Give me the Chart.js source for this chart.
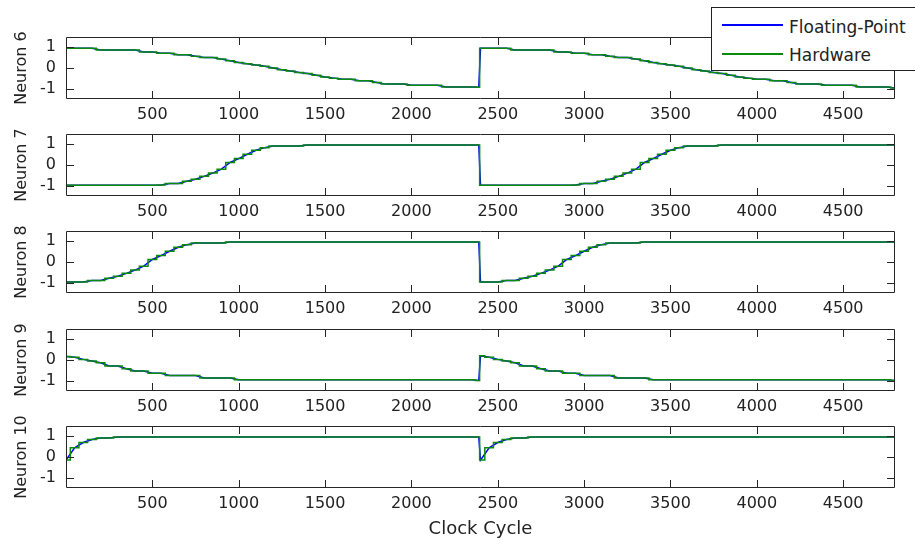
<!DOCTYPE html>
<html>
<head>
  <title>Neuron outputs</title>
  <script src="https://cdn.jsdelivr.net/npm/chart.js"></script>
<style>
body {
  margin: 0;
  background: #ffffff;
  width: 915px;
  height: 544px;
  overflow: hidden;
  position: relative;
  font-family: 'DejaVu Sans', sans-serif;
}
canvas.panel {
  position: absolute;
  left: 0;
}
#legend {
  position: absolute;
  left: 711px;
  top: 7px;
  width: 230px;
  height: 62px;
  border: 1px solid #222;
  background: #fff;
  z-index: 5;
}
#legend .swatch {
  position: absolute;
  left: 10px;
  width: 61px;
  height: 1.5px;
}
#legend .label {
  position: absolute;
  left: 77px;
  font-size: 17px;
  line-height: 20px;
  color: #222;
  white-space: nowrap;
}
</style>
</head>
<body>

  <div id="legend">
    <div class="swatch" style="top:16px;background:#0000ff"></div>
    <div class="label" style="top:9px">Floating-Point</div>
    <div class="swatch" style="top:45px;background:#0a8c0a"></div>
    <div class="label" style="top:37px">Hardware</div>
  </div>

  <script>
    // clock cycles (shared x values)
    const cycles = [
      0, 50, 100, 150, 200, 250, 300, 350, 400, 450, 500, 550, 600, 650, 700, 750, 800, 850, 900, 950,
      1000, 1050, 1100, 1150, 1200, 1250, 1300, 1350, 1400, 1450, 1500, 1550, 1600, 1650, 1700, 1750, 1800, 1850, 1900, 1950,
      2000, 2050, 2100, 2150, 2200, 2250, 2300, 2350, 2390,
      2400, 2450, 2500, 2550, 2600, 2650, 2700, 2750, 2800, 2850, 2900, 2950,
      3000, 3050, 3100, 3150, 3200, 3250, 3300, 3350, 3400, 3450, 3500, 3550, 3600, 3650, 3700, 3750, 3800, 3850, 3900, 3950,
      4000, 4050, 4100, 4150, 4200, 4250, 4300, 4350, 4400, 4450, 4500, 4550, 4600, 4650, 4700, 4750, 4800
    ];

    const neuron6 = [
      0.95, 0.95, 0.95, 0.95, 0.87, 0.87, 0.87, 0.87, 0.87, 0.78,
      0.78, 0.71, 0.71, 0.64, 0.64, 0.57, 0.51, 0.51, 0.43, 0.35,
      0.27, 0.21, 0.14, 0.08, 0.00, -0.08, -0.14, -0.22, -0.27, -0.35,
      -0.43, -0.49, -0.55, -0.55, -0.62, -0.62, -0.70, -0.78, -0.78, -0.78,
      -0.84, -0.84, -0.84, -0.84, -0.92, -0.92, -0.92, -0.92, -0.93,
      0.95, 0.95, 0.95, 0.95, 0.87, 0.87, 0.87, 0.87, 0.87, 0.78,
      0.78, 0.71, 0.71, 0.64, 0.64, 0.57, 0.51, 0.51, 0.43, 0.35,
      0.27, 0.21, 0.14, 0.08, 0.00, -0.08, -0.14, -0.22, -0.27, -0.35,
      -0.43, -0.49, -0.55, -0.55, -0.62, -0.62, -0.70, -0.78, -0.78, -0.78,
      -0.84, -0.84, -0.84, -0.84, -0.92, -0.92, -0.92, -0.92, -0.97
    ];

    const neuron7 = [
      -0.98, -0.98, -0.98, -0.98, -0.98, -0.98, -0.98, -0.98, -0.98, -0.98,
      -0.98, -0.97, -0.90, -0.90, -0.79, -0.69, -0.55, -0.39, -0.20, 0.12,
      0.31, 0.52, 0.71, 0.84, 0.92, 0.92, 0.92, 0.92, 0.97, 0.97,
      0.97, 0.97, 0.97, 0.97, 0.97, 0.97, 0.97, 0.97, 0.97, 0.97,
      0.97, 0.97, 0.97, 0.97, 0.97, 0.97, 0.97, 0.97, 0.97,
      -0.98, -0.98, -0.98, -0.98, -0.98, -0.98, -0.98, -0.98, -0.98, -0.98,
      -0.98, -0.97, -0.90, -0.90, -0.79, -0.69, -0.55, -0.39, -0.20, 0.12,
      0.31, 0.52, 0.71, 0.84, 0.92, 0.92, 0.92, 0.92, 0.97, 0.97,
      0.97, 0.97, 0.97, 0.97, 0.97, 0.97, 0.97, 0.97, 0.97, 0.97,
      0.97, 0.97, 0.97, 0.97, 0.97, 0.97, 0.97, 0.97, 0.97
    ];

    const neuron8 = [
      -0.97, -0.97, -0.97, -0.90, -0.90, -0.79, -0.69, -0.55, -0.39, -0.20,
      0.12, 0.31, 0.52, 0.71, 0.84, 0.92, 0.92, 0.92, 0.92, 0.97,
      0.97, 0.97, 0.97, 0.97, 0.97, 0.97, 0.97, 0.97, 0.97, 0.97,
      0.97, 0.97, 0.97, 0.97, 0.97, 0.97, 0.97, 0.97, 0.97, 0.97,
      0.97, 0.97, 0.97, 0.97, 0.97, 0.97, 0.97, 0.97, 0.97,
      -0.97, -0.97, -0.97, -0.90, -0.90, -0.79, -0.69, -0.55, -0.39, -0.20,
      0.12, 0.31, 0.52, 0.71, 0.84, 0.92, 0.92, 0.92, 0.92, 0.97,
      0.97, 0.97, 0.97, 0.97, 0.97, 0.97, 0.97, 0.97, 0.97, 0.97,
      0.97, 0.97, 0.97, 0.97, 0.97, 0.97, 0.97, 0.97, 0.97, 0.97,
      0.97, 0.97, 0.97, 0.97, 0.97, 0.97, 0.97, 0.97, 0.97
    ];

    const neuron9 = [
      0.17, 0.13, 0.03, -0.05, -0.13, -0.29, -0.29, -0.42, -0.53, -0.53,
      -0.64, -0.64, -0.75, -0.75, -0.75, -0.75, -0.87, -0.87, -0.87, -0.87,
      -0.96, -0.96, -0.96, -0.96, -0.96, -0.96, -0.96, -0.96, -0.96, -0.96,
      -0.96, -0.96, -0.96, -0.96, -0.96, -0.96, -0.96, -0.96, -0.96, -0.96,
      -0.96, -0.96, -0.96, -0.96, -0.96, -0.96, -0.96, -0.96, -0.99,
      0.20, 0.13, 0.03, -0.05, -0.13, -0.29, -0.29, -0.42, -0.53, -0.53,
      -0.64, -0.64, -0.75, -0.75, -0.75, -0.75, -0.87, -0.87, -0.87, -0.87,
      -0.96, -0.96, -0.96, -0.96, -0.96, -0.96, -0.96, -0.96, -0.96, -0.96,
      -0.96, -0.96, -0.96, -0.96, -0.96, -0.96, -0.96, -0.96, -0.96, -0.96,
      -0.96, -0.96, -0.96, -0.96, -0.96, -0.96, -0.96, -0.96, -0.99
    ];

    const neuron10 = [
      -0.15, 0.45, 0.70, 0.85, 0.92, 0.92, 0.97, 0.97, 0.97, 0.97,
      0.97, 0.97, 0.97, 0.97, 0.97, 0.97, 0.97, 0.97, 0.97, 0.97,
      0.97, 0.97, 0.97, 0.97, 0.97, 0.97, 0.97, 0.97, 0.97, 0.97,
      0.97, 0.97, 0.97, 0.97, 0.97, 0.97, 0.97, 0.97, 0.97, 0.97,
      0.97, 0.97, 0.97, 0.97, 0.97, 0.97, 0.97, 0.97, 0.97,
      -0.15, 0.45, 0.70, 0.85, 0.92, 0.92, 0.97, 0.97, 0.97, 0.97,
      0.97, 0.97, 0.97, 0.97, 0.97, 0.97, 0.97, 0.97, 0.97, 0.97,
      0.97, 0.97, 0.97, 0.97, 0.97, 0.97, 0.97, 0.97, 0.97, 0.97,
      0.97, 0.97, 0.97, 0.97, 0.97, 0.97, 0.97, 0.97, 0.97, 0.97,
      0.97, 0.97, 0.97, 0.97, 0.97, 0.97, 0.97, 0.97, 0.97
    ];

    const neuronNames = ['Neuron 6', 'Neuron 7', 'Neuron 8', 'Neuron 9', 'Neuron 10'];
    const neuronValues = [neuron6, neuron7, neuron8, neuron9, neuron10];
    const xTicks = [500, 1000, 1500, 2000, 2500, 3000, 3500, 4000, 4500];
    const yTicks = [-1, 0, 1];

    const panelTops = [27, 124, 221, 319, 416];   // canvas top for each subplot
    const textColor = '#222';

    Chart.defaults.font.family = "'DejaVu Sans', sans-serif";
    Chart.defaults.font.size = 16;
    Chart.defaults.color = textColor;
    Chart.defaults.animation = false;

    // MATLAB style box with inward ticks
    const boxPlugin = {
      id: 'box',
      afterDatasetsDraw(chart) {
        const { ctx, chartArea: a, scales } = chart;
        ctx.save();
        ctx.strokeStyle = '#262626';
        ctx.lineWidth = 1;
        ctx.beginPath();
        ctx.rect(a.left + 0.5, a.top + 0.5, a.right - a.left - 1, a.bottom - a.top - 1);
        xTicks.forEach(v => {
          const px = Math.round(scales.x.getPixelForValue(v)) + 0.5;
          ctx.moveTo(px, a.top); ctx.lineTo(px, a.top + 8);
          ctx.moveTo(px, a.bottom); ctx.lineTo(px, a.bottom - 8);
        });
        yTicks.forEach(v => {
          const py = Math.round(scales.y.getPixelForValue(v)) + 0.5;
          ctx.moveTo(a.left, py); ctx.lineTo(a.left + 8, py);
          ctx.moveTo(a.right, py); ctx.lineTo(a.right - 8, py);
        });
        ctx.stroke();
        ctx.restore();
      }
    };

    const noPad = s => {
      s.paddingTop = 0; s.paddingBottom = 0;
      s.paddingLeft = 0; s.paddingRight = 0;
    };

    neuronNames.forEach((name, i) => {
      const last = i === neuronNames.length - 1;
      const canvas = document.createElement('canvas');
      canvas.className = 'panel';
      canvas.width = 915;
      canvas.height = last ? 128 : 97;
      canvas.style.top = panelTops[i] + 'px';
      document.body.insertBefore(canvas, document.getElementById('legend'));

      const vals = neuronValues[i];
      const points = cycles.map((c, k) => ({ x: c, y: vals[k] }));

      new Chart(canvas.getContext('2d'), {
        type: 'line',
        data: {
          datasets: [
            {
              label: 'Hardware',
              data: points,
              borderColor: '#0a8c0a',
              borderWidth: 1.5,
              stepped: 'middle',
              pointRadius: 0,
              fill: false
            },
            {
              label: 'Floating-Point',
              data: points,
              borderColor: '#0000ff',
              borderWidth: 1.5,
              tension: 0,
              pointRadius: 0,
              fill: false
            }
          ]
        },
        options: {
          responsive: false,
          devicePixelRatio: 1,
          layout: { padding: { top: 10, right: 20, bottom: 0, left: 0 } },
          plugins: { legend: { display: false }, tooltip: { enabled: false } },
          scales: {
            x: {
              type: 'linear',
              min: 0,
              max: 4800,
              afterBuildTicks: s => { s.ticks = xTicks.map(v => ({ value: v })); },
              afterFit: s => { s.height = last ? 56 : 25; noPad(s); },
              grid: { display: false, drawTicks: false },
              border: { display: false },
              ticks: { padding: 6, maxRotation: 0, autoSkip: false, callback: v => String(v) },
              title: {
                display: last,
                text: 'Clock Cycle',
                font: { size: 18 },
                padding: { top: 0, bottom: 4 }
              }
            },
            y: {
              min: -1.5,
              max: 1.5,
              afterBuildTicks: s => { s.ticks = yTicks.map(v => ({ value: v })); },
              afterFit: s => { s.width = 66; noPad(s); },
              grid: { display: false, drawTicks: false },
              border: { display: false },
              ticks: { padding: 10, callback: v => String(v) },
              title: {
                display: true,
                text: name,
                padding: { top: 12, bottom: 0 }
              }
            }
          }
        },
        plugins: [boxPlugin]
      });
    });
  </script>

</body>
</html>
